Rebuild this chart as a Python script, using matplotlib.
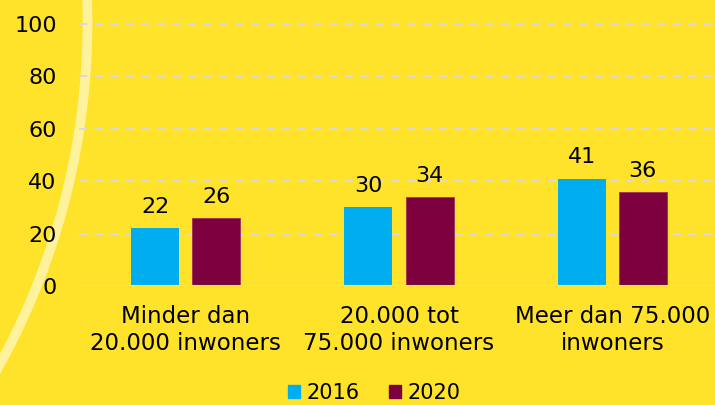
import matplotlib
matplotlib.use("Agg")
import matplotlib.pyplot as plt
import numpy as np
from matplotlib.patches import Arc, Patch

# data
categories = ["Minder dan\n20.000 inwoners", "20.000 tot\n75.000 inwoners", "Meer dan 75.000\ninwoners"]
years = ["2016", "2020"]
values_2016 = [22, 30, 41]
values_2020 = [26, 34, 36]
yticks = [0, 20, 40, 60, 80, 100]

bg = "#FFE32A"
blue = "#00AEEF"
maroon = "#7D003F"

plt.rcParams["font.family"] = ["DejaVu Sans"]
fs = 16

fig = plt.figure(figsize=(7.15, 4.05), dpi=100, facecolor=bg)

# decorative light arc on the left (pixel coords), behind everything
arc = Arc((-623.5, 382.7), 1422, 1422, theta1=-40, theta2=10, transform=None,
          color="#FFF29C", lw=7, zorder=-5)
fig.patches.append(arc)

ax = fig.add_axes([79 / 715, (405 - 286) / 405, 640 / 715, 262 / 405])
ax.set_facecolor("none")

x = np.arange(len(categories))
w = 0.225
off = 0.143
b1 = ax.bar(x - off, values_2016, w, color=blue, zorder=3)
b2 = ax.bar(x + off, values_2020, w, color=maroon, edgecolor="#A0305A", lw=0.6, zorder=3)

for bars, vals in ((b1, values_2016), (b2, values_2020)):
    for r, v in zip(bars, vals):
        ax.annotate(str(v), (r.get_x() + r.get_width() / 2, v), xytext=(0, 8),
                    textcoords="offset points", ha="center", va="bottom", fontsize=fs)

ax.set_xlim(-0.5, 2.5)
ax.set_ylim(0, 100)
ax.set_yticks(yticks)
for t in yticks[1:]:
    ax.axhline(t, color="#D9D9D9", lw=1.5, ls=(0, (4, 3.5)), zorder=1, clip_on=False)
ax.axhline(0, color="#D9D9D9", lw=1.5, zorder=4)

ax.set_xticks(x)
ax.set_xticklabels(categories, fontsize=16.5, linespacing=1.2)
ax.tick_params(axis="x", length=0, pad=14)
ax.tick_params(axis="y", length=0, pad=16, labelsize=fs)
for s in ax.spines.values():
    s.set_visible(False)

handles = [Patch(color=blue), Patch(color=maroon)]
fig.legend(handles, years, loc="center", bbox_to_anchor=(374 / 715, 1 - 393 / 405),
           ncol=2, frameon=False, fontsize=15, handlelength=0.6, handleheight=0.6,
           handletextpad=0.3, columnspacing=1.4)

fig.savefig("out.png", dpi=100, facecolor=bg)
